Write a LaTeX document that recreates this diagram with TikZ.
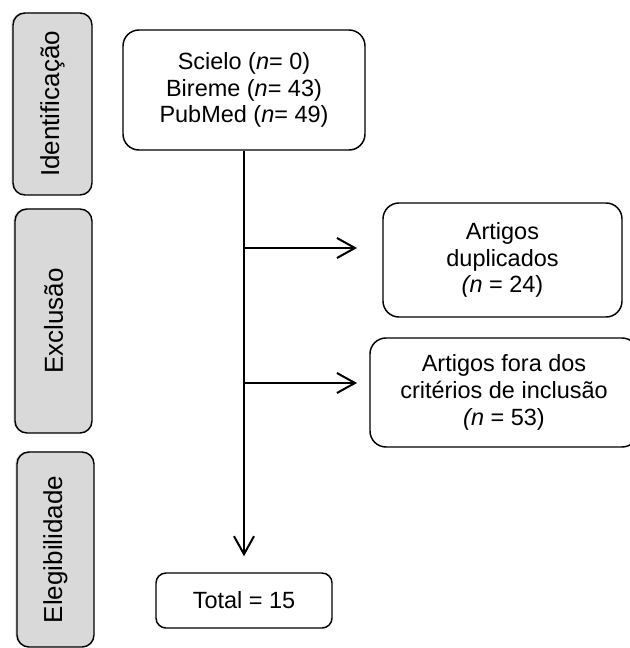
\documentclass[tikz,border=0pt]{standalone}
\usepackage{fontspec}
\setmainfont{Liberation Sans}
\usetikzlibrary{
	arrows.meta,
	positioning,
	shadows
}
\definecolor{boxgray}{RGB}{217,217,217}

\begin{document}
\begin{tikzpicture}[
		x=0.75pt, y=-0.75pt,
		sidebox/.style={
			draw,
			rounded corners=9pt,
			line width=1.1pt,
			fill=boxgray,
			rotate=90,
			inner sep=0pt,
			font=\fontsize{19.5}{23}\selectfont,
			drop shadow={shadow xshift=-1.2pt, shadow yshift=0.4pt, opacity=0.3}
		},
		flowbox/.style={
			draw,
			rounded corners=12pt,
			line width=1.1pt,
			inner sep=0pt,
			align=center,
			font=\fontsize{17.6}{20}\selectfont
		},
		arrow/.style={
			draw,
			line width=1.5pt,
			-{Straight Barb[length=13.5pt, width=15pt]}
		}
	]
	\useasboundingbox (0,0) rectangle (629,648);

	\node[sidebox, minimum width=136.5pt, minimum height=59.25pt] (ident) at (52.5,104) {Identificação};
	\node[sidebox, minimum width=168pt, minimum height=57.75pt] (excl) at (53.5,321) {Exclusão};
	\node[sidebox, minimum width=146.25pt, minimum height=57.75pt] (eleg) at (55.5,549.5) {Elegibilidade};

	\node[flowbox, minimum width=181.5pt, minimum height=90pt] (bases) at (244,90) {Scielo (\textit{n}= 0)\\Bireme (\textit{n}= 43)\\PubMed (\textit{n}= 49)};
	\node[flowbox, minimum width=179.25pt, minimum height=85.5pt] (dup) at (502.5,260) {Artigos\\duplicados\\\textit{(n} = 24)};
	\node[flowbox, minimum width=201pt, minimum height=81.75pt] (crit) at (504,392.5) {Artigos fora dos\\critérios de inclusão\\\textit{(n} = 53)};
	\node[flowbox, rounded corners=7.5pt, minimum width=132pt, minimum height=41.25pt] (total) at (244,600.5) {Total = 15};

	\coordinate (fork1) at (244,248);
	\coordinate (tip1) at (357,248);
	\coordinate (fork2) at (244,383);
	\coordinate (tip2) at (357,383);

	\draw[arrow, shorten >=12pt] (bases.south) -- (total.north);
	\draw[arrow] (fork1) -- (tip1);
	\draw[arrow] (fork2) -- (tip2);
\end{tikzpicture}
\end{document}
